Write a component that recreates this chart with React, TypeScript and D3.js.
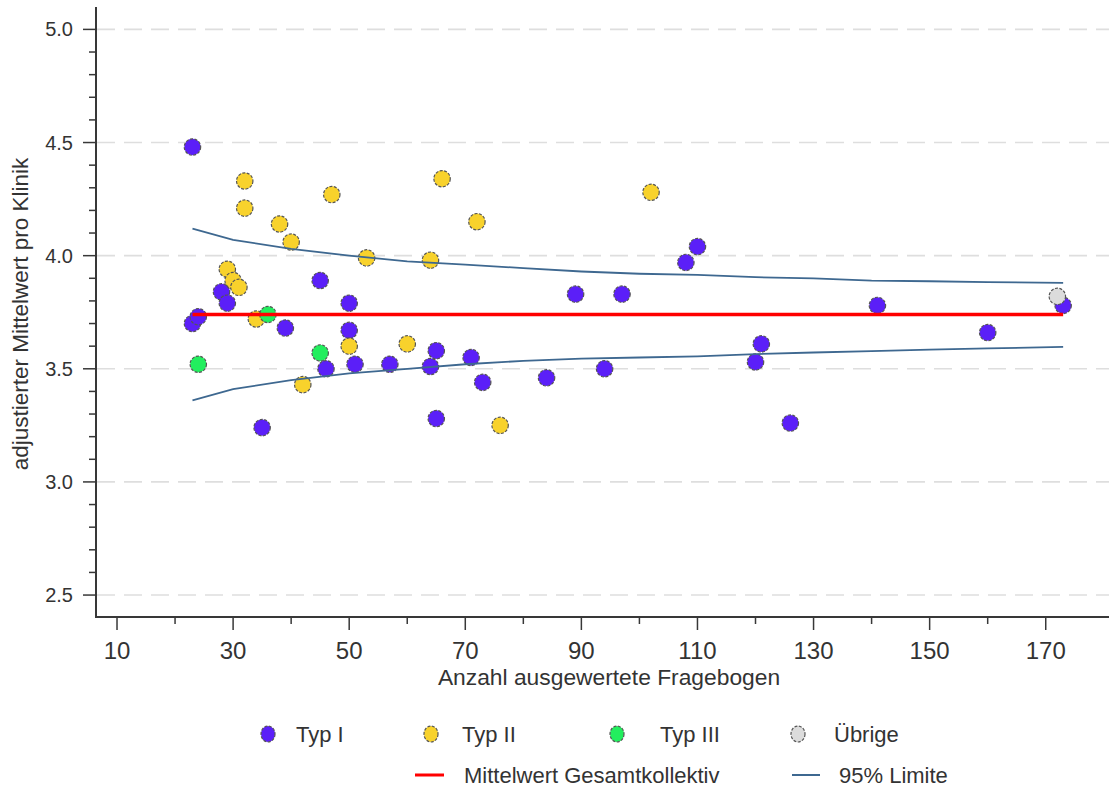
import React from 'react';
import * as d3 from 'd3';

// data: [Anzahl Fragebogen, adjustierter Mittelwert]
const typ1 = [
  [23, 4.48], [23, 3.70], [24, 3.73], [28, 3.84], [29, 3.79], [35, 3.24], [39, 3.68],
  [45, 3.89], [46, 3.50], [50, 3.79], [50, 3.67], [51, 3.52], [57, 3.52], [64, 3.51],
  [65, 3.58], [65, 3.28], [71, 3.55], [73, 3.44], [84, 3.46], [89, 3.83], [94, 3.50],
  [97, 3.83], [108, 3.97], [110, 4.04], [120, 3.53], [121, 3.61], [126, 3.26],
  [141, 3.78], [160, 3.66], [173, 3.78],
];
const typ2 = [
  [29, 3.94], [30, 3.89], [31, 3.86], [32, 4.33], [32, 4.21], [34, 3.72], [38, 4.14],
  [40, 4.06], [42, 3.43], [47, 4.27], [50, 3.60], [53, 3.99], [60, 3.61], [64, 3.98],
  [66, 4.34], [72, 4.15], [76, 3.25], [102, 4.28],
];
const typ3 = [[24, 3.52], [36, 3.74], [45, 3.57]];
const uebrige = [[172, 3.82]];

const meanValue = 3.74;
const meanRange = [23, 173];

const limitN = [23, 30, 40, 50, 60, 70, 80, 90, 100, 110, 120, 130, 140, 150, 160, 173];
const limitUpper = [4.12, 4.07, 4.03, 4.0, 3.975, 3.96, 3.945, 3.93, 3.92, 3.915, 3.905, 3.9, 3.89, 3.887, 3.883, 3.88];
const limitLower = [3.36, 3.41, 3.45, 3.48, 3.5, 3.52, 3.535, 3.545, 3.55, 3.555, 3.565, 3.572, 3.578, 3.585, 3.59, 3.597];

const xTicks = [10, 30, 50, 70, 90, 110, 130, 150, 170];
const xMinor = [20, 40, 60, 80, 100, 120, 140, 160];
const yTicks = [2.5, 3.0, 3.5, 4.0, 4.5, 5.0];

const groups = [
  { name: 'Typ I', data: typ1, color: '#5b1ff8' },
  { name: 'Typ II', data: typ2, color: '#f8d22c' },
  { name: 'Typ III', data: typ3, color: '#22ee5e' },
  { name: 'Übrige', data: uebrige, color: '#dcdcdc' },
];

const W = 1109, H = 787;
const font = '"Liberation Sans", Arial, sans-serif';
const axisCol = '#383838';
const limitCol = '#3e6890';

export default function App() {
  const x = d3.scaleLinear().domain([6.38, 180.9]).range([96, 1109]);
  const y = d3.scaleLinear().domain([2.403, 5.099]).range([617, 7]);

  const yMinor = d3.range(25, 50).map(d => d / 10).filter(v => !yTicks.some(t => Math.abs(t - v) < 1e-6));

  const limitLine = d3.line<number>().x((d, i) => x(limitN[i])).y(d => y(d));

  return (
    <svg width={W} height={H} style={{ position: 'absolute', left: 0, top: 0, background: '#fff' }}>
      {/* grid */}
      {yTicks.map(t => (
        <line key={'g' + t} x1={97} x2={W} y1={y(t)} y2={y(t)}
          stroke="#dedede" strokeWidth={1.6} strokeDasharray="18 9" />
      ))}

      {/* axes */}
      <line x1={96} x2={96} y1={7} y2={618} stroke={axisCol} strokeWidth={2} />
      <line x1={95} x2={W} y1={617} y2={617} stroke={axisCol} strokeWidth={2} />
      {yTicks.map(t => (
        <g key={'yt' + t}>
          <line x1={83} x2={96} y1={y(t)} y2={y(t)} stroke={axisCol} strokeWidth={1.5} />
          <text x={73} y={y(t) + 7} textAnchor="end" fontSize={20} fontFamily={font} fill="#333">
            {d3.format('.1f')(t)}
          </text>
        </g>
      ))}
      {yMinor.map(t => (
        <line key={'ym' + t} x1={89} x2={96} y1={y(t)} y2={y(t)} stroke={axisCol} strokeWidth={1.5} />
      ))}
      {xTicks.map(t => (
        <g key={'xt' + t}>
          <line x1={x(t)} x2={x(t)} y1={618} y2={630} stroke={axisCol} strokeWidth={1.5} />
          <text x={x(t)} y={659} textAnchor="middle" fontSize={24} fontFamily={font} fill="#333">{t}</text>
        </g>
      ))}
      {xMinor.map(t => (
        <line key={'xm' + t} x1={x(t)} x2={x(t)} y1={618} y2={624} stroke={axisCol} strokeWidth={1.5} />
      ))}

      <text x={609} y={685} textAnchor="middle" fontSize={22.8} fontFamily={font} fill="#333">
        Anzahl ausgewertete Fragebogen
      </text>
      <text transform={`translate(28,${314}) rotate(-90)`} textAnchor="middle" fontSize={22.5} fontFamily={font} fill="#333">
        adjustierter Mittelwert pro Klinik
      </text>

      {/* points */}
      {groups.map(g => (
        <g key={g.name}>
          {g.data.map((d, i) => (
            <circle key={i} cx={x(d[0])} cy={y(d[1])} r={8.2} fill={g.color}
              stroke="#555" strokeWidth={1.2} strokeDasharray="3 1.5" />
          ))}
        </g>
      ))}

      {/* mean + limits */}
      <line x1={x(meanRange[0])} x2={x(meanRange[1])} y1={y(meanValue)} y2={y(meanValue)} stroke="#ff0000" strokeWidth={3.5} />
      <path d={limitLine(limitUpper) || ''} fill="none" stroke={limitCol} strokeWidth={1.8} />
      <path d={limitLine(limitLower) || ''} fill="none" stroke={limitCol} strokeWidth={1.8} />

      {/* legend */}
      {groups.map((g, i) => {
        const lx = [268, 431, 617, 798][i];
        const tx = [296, 462, 660, 834][i];
        return (
          <g key={'lg' + g.name}>
            <ellipse cx={lx} cy={734} rx={7} ry={8} fill={g.color} stroke="#555" strokeWidth={1.2} strokeDasharray="3 1.5" />
            <text x={tx} y={742} fontSize={22} fontFamily={font} fill="#333">{g.name}</text>
          </g>
        );
      })}
      <line x1={415} x2={444} y1={775} y2={775} stroke="#ff0000" strokeWidth={3} />
      <text x={464} y={783} fontSize={22} fontFamily={font} fill="#333">Mittelwert Gesamtkollektiv</text>
      <line x1={792} x2={820} y1={775} y2={775} stroke={limitCol} strokeWidth={2} />
      <text x={839} y={783} fontSize={22} fontFamily={font} fill="#333">95% Limite</text>
    </svg>
  );
}
